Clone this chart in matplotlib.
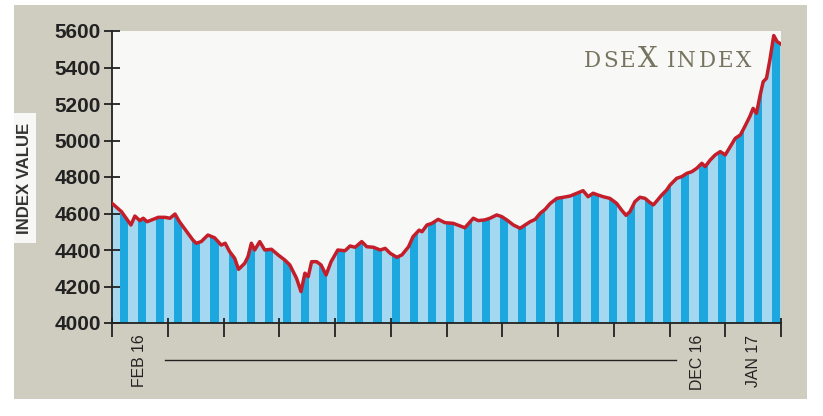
import matplotlib
matplotlib.use("Agg")
import matplotlib.pyplot as plt
import numpy as np
from matplotlib import font_manager as fm
from matplotlib.transforms import blended_transform_factory
from matplotlib.patches import Rectangle

# ---------------- data ----------------
month_pos = [0.00, 0.17, 0.34, 0.41, 0.50, 0.56, 0.63, 0.74, 0.83, 0.95,
             1.04, 1.13, 1.21, 1.36, 1.45, 1.51, 1.60, 1.72, 1.84, 1.96,
             2.03, 2.11, 2.20, 2.27, 2.38, 2.44, 2.50, 2.56, 2.65, 2.74,
             2.86, 2.98, 3.10, 3.19, 3.31, 3.39, 3.46, 3.52, 3.58, 3.67,
             3.75, 3.84, 3.93, 4.05, 4.18, 4.27, 4.36, 4.48, 4.57, 4.69,
             4.81, 4.90, 4.99, 5.11, 5.20, 5.32, 5.40, 5.51, 5.56, 5.65,
             5.74, 5.85, 5.97, 6.12, 6.24, 6.33, 6.48, 6.57, 6.69, 6.78,
             6.90, 6.99, 7.08, 7.20, 7.32, 7.41, 7.50, 7.59, 7.68, 7.77,
             7.86, 7.98, 8.10, 8.22, 8.34, 8.45, 8.54, 8.63, 8.72, 8.81,
             8.93, 9.05, 9.14, 9.22, 9.29, 9.38, 9.47, 9.56, 9.65, 9.71,
             9.77, 9.86, 9.95, 10.01, 10.13, 10.22, 10.31, 10.40, 10.49, 10.58,
             10.64, 10.73, 10.82, 10.91, 11.00, 11.09, 11.18, 11.27, 11.35, 11.44,
             11.50, 11.56, 11.62, 11.68, 11.74, 11.80, 11.87, 11.93, 11.99]
index_value = [4656, 4610, 4537, 4586, 4561, 4574, 4555, 4568, 4579, 4579,
               4574, 4597, 4555, 4492, 4455, 4437, 4446, 4482, 4467, 4427,
               4437, 4391, 4355, 4294, 4327, 4364, 4437, 4400, 4446, 4400,
               4404, 4373, 4345, 4318, 4245, 4172, 4273, 4254, 4336, 4336,
               4318, 4263, 4336, 4400, 4396, 4422, 4415, 4446, 4418, 4415,
               4400, 4409, 4382, 4360, 4373, 4418, 4473, 4509, 4500, 4537,
               4546, 4568, 4550, 4546, 4532, 4522, 4574, 4561, 4565, 4574,
               4592, 4583, 4565, 4537, 4519, 4537, 4555, 4568, 4601, 4623,
               4655, 4683, 4689, 4696, 4711, 4725, 4692, 4711, 4701, 4692,
               4683, 4656, 4619, 4590, 4610, 4665, 4689, 4683, 4660, 4647,
               4668, 4701, 4729, 4756, 4793, 4802, 4820, 4829, 4848, 4875,
               4857, 4893, 4921, 4939, 4921, 4966, 5012, 5030, 5076, 5131,
               5176, 5149, 5240, 5322, 5341, 5441, 5575, 5542, 5530]
y_ticks = [4000, 4200, 4400, 4600, 4800, 5000, 5200, 5400, 5600]
month_ticks = list(range(13))
month_labels = ["FEB 16", "DEC 16", "JAN 17"]
month_label_pos = [0.5, 10.5, 11.5]
y_label = "INDEX VALUE"
title_parts = [("DSE", "small"), ("X", "big"), (" INDEX", "small")]

# ---------------- style ----------------
names = {f.name for f in fm.fontManager.ttflist}
narrow = "Liberation Sans Narrow" if "Liberation Sans Narrow" in names else "Liberation Sans"
narrow_scale = 1.0 if narrow == "Liberation Sans Narrow" else 0.88

W, H = 823, 416
fig = plt.figure(figsize=(W / 100, H / 100), dpi=100, facecolor="white")
fig.patches.append(Rectangle((14 / W, 1 - 399 / H), (807 - 14) / W, (399 - 5) / H,
                             transform=fig.transFigure, facecolor="#cfcdc0",
                             edgecolor="none", zorder=-2))
# white box behind y label
fig.patches.append(Rectangle((14 / W, 1 - 243 / H), 22 / W, 130 / H,
                             transform=fig.transFigure, facecolor="#f7f7f5",
                             edgecolor="none", zorder=-1))

ax = fig.add_axes([112 / W, 1 - 323 / H, 669 / W, 292 / H])
ax.set_facecolor("#f8f8f6")
ax.set_xlim(0, 12)
ax.set_ylim(4000, 5600)

dark = "#1ca7de"
light = "#a4d8f1"
red = "#c41e2a"
ink = "#222222"

fill = ax.fill_between(month_pos, 4000, index_value, color=light, lw=0, zorder=1)
clip_path = fill.get_paths()[0]
stripe_x = np.linspace(0.215, 11.91, 37)
bars = ax.bar(stripe_x, 1600, bottom=4000, width=0.145, color=dark, lw=0, zorder=2)
for b in bars:
    b.set_clip_path(clip_path, transform=ax.transData)
ax.plot(month_pos, index_value, color=red, lw=2.5, solid_joinstyle="round", zorder=3)

for s in ["top", "right"]:
    ax.spines[s].set_visible(False)
for s in ["left", "bottom"]:
    ax.spines[s].set_color(ink)
    ax.spines[s].set_linewidth(1.3)

ax.set_yticks(y_ticks)
ax.set_yticklabels([str(v) for v in y_ticks], fontfamily=narrow, fontweight="bold",
                   fontsize=17 * narrow_scale, color=ink)
ax.tick_params(axis="y", direction="inout", length=12, width=1.3, color=ink, pad=2)

ax.set_xticks(month_ticks)
ax.set_xticklabels([])
ax.xaxis.remove_overlapping_locs = False
ax.set_xticks(month_ticks, minor=True)
ax.tick_params(axis="x", which="major", direction="out", length=10, width=1.3, color=ink)
ax.tick_params(axis="x", which="minor", direction="in", length=3.6, width=1.3, color=ink)

tr = blended_transform_factory(ax.transData, ax.transAxes)
for lbl, pos in zip(month_labels, month_label_pos):
    ax.text(pos, -0.04, lbl, transform=tr, rotation=90, ha="center", va="top",
            fontfamily=narrow, fontsize=13 * narrow_scale, color=ink)
ax.plot([0.95, 10.12], [-0.127, -0.127], transform=tr, color=ink, lw=1.0, clip_on=False)

fig.text(25 / W, 1 - 178 / H, y_label, rotation=90, ha="center", va="center",
         fontfamily=narrow, fontweight="bold", fontsize=13.7 * narrow_scale, color="#333333",
         zorder=2)

# title with small caps look, right-anchored, with letter tracking
renderer = fig.canvas.get_renderer()
x_right = 751.0
baseline = 1 - 67 / H
sizes = {"small": 15.5, "big": 20}
tracking = 2.2
for txt, kind in reversed(title_parts):
    for ch in reversed(txt):
        if ch == " ":
            x_right -= 7
            continue
        t = fig.text(x_right / W, baseline, ch, ha="right", va="baseline",
                     fontfamily="DejaVu Serif", fontsize=sizes[kind], color="#76745f")
        bb = t.get_window_extent(renderer)
        x_right -= bb.width + tracking

fig.savefig("out.png", dpi=100, facecolor="white")
